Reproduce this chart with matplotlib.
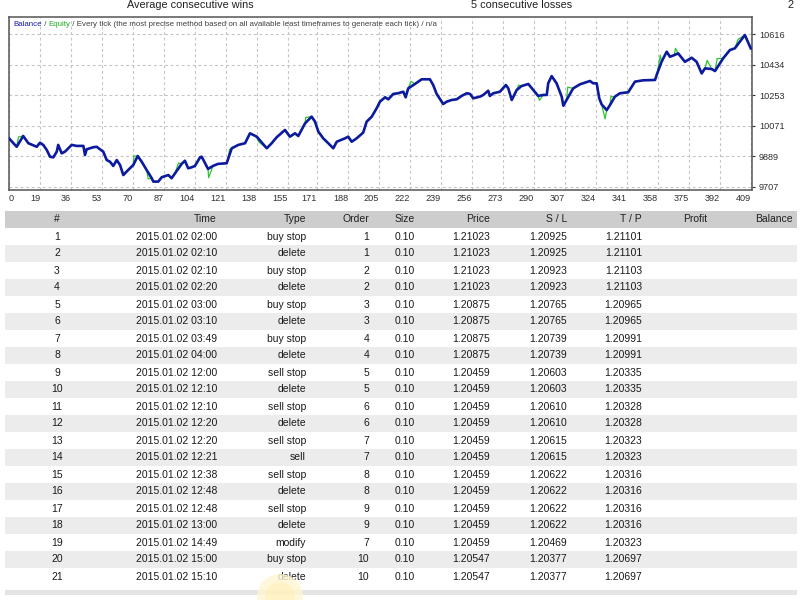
import matplotlib
matplotlib.use("Agg")
import matplotlib.pyplot as plt
from matplotlib.patches import Ellipse

plt.rcParams['font.family'] = ['Liberation Sans', 'DejaVu Sans']

# ---------------- chart data ----------------
bal_x = [2.0, 6.2, 9.8, 12.6, 17.2, 19.0, 20.8, 22.7, 24.5, 26.3, 28.2, 29.0, 30.9, 32.7,
         36.4, 39.1, 42.8, 43.7, 44.6, 48.2, 50.1, 51.9, 53.7, 55.6, 57.4, 59.2, 61.1, 62.9,
         64.7, 67.4, 70.2, 72.6, 74.8, 77.5, 80.3, 81.2, 83.9, 85.8, 89.4, 91.2, 93.1, 96.7,
         98.5, 100.3, 102.2, 104.0, 106.8, 107.7, 111.2, 113.9, 116.6, 121.4, 122.3, 124.2,
         127.8, 131.5, 134.2, 137.9, 143.4, 146.1, 148.8, 153.4, 156.1, 158.9, 160.7, 164.4,
         168.0, 169.9, 171.7, 174.4, 176.3, 179.9, 181.8, 186.3, 188.1, 190.0, 192.7, 196.3,
         198.2, 201.0, 203.7, 205.5, 208.3, 210.1, 212.8, 215.5, 218.3, 219.6, 221.0, 224.7,
         228.4, 232.9, 234.7, 236.6, 240.2, 242.1, 244.8, 247.6, 250.3, 253.1, 254.9, 256.7,
         260.4, 262.2, 264.9, 265.8, 267.7, 271.3, 274.6, 275.9, 277.8, 280.5, 283.2, 286.9,
         289.6, 292.3, 295.1, 297.0, 297.8, 299.7, 302.4, 305.2, 306.1, 307.9, 311.5, 315.2,
         320.7, 322.5, 324.4, 325.8, 327.1, 329.9, 331.7, 334.4, 337.2, 341.7, 345.4, 349.9,
         356.4, 357.6, 360.0, 362.8, 364.6, 367.0, 369.1, 372.8, 376.5, 379.2, 382.0, 383.8,
         387.5, 389.3, 393.8, 397.5, 400.2, 405.7, 408.9]
bal_y = [9996, 9946, 10010, 9967, 9946, 9970, 9957, 9927, 9887, 9883, 9917, 9957, 9907, 9917,
         9957, 9951, 9951, 9897, 9931, 9943, 9946, 9931, 9917, 9867, 9857, 9832, 9867, 9838,
         9778, 9808, 9838, 9891, 9857, 9808, 9759, 9739, 9739, 9765, 9778, 9759, 9788, 9844,
         9863, 9818, 9824, 9832, 9883, 9887, 9814, 9832, 9844, 9848, 9877, 9937,
         9957, 9967, 10026, 10006, 9937, 9967, 10002, 10046, 10006, 10026, 10010, 10085,
         10125, 10095, 10036, 9996, 9976, 9937, 9976, 9996, 10006, 9976, 9996, 10030,
         10095, 10125, 10175, 10214, 10240, 10228, 10260, 10264, 10273, 10240, 10293, 10319,
         10347, 10347, 10313, 10260, 10200, 10214, 10224, 10228, 10248, 10264, 10260, 10234,
         10244, 10254, 10279, 10248, 10264, 10273, 10313, 10293, 10224, 10283, 10307, 10319,
         10283, 10248, 10254, 10254, 10323, 10366, 10323, 10244, 10190, 10224, 10293, 10317,
         10337, 10323, 10323, 10234, 10198, 10164, 10194, 10244, 10264, 10270, 10333, 10341,
         10343, 10382, 10451, 10511, 10481, 10491, 10501, 10451, 10475, 10451, 10382, 10412,
         10408, 10396, 10472, 10521, 10531, 10610, 10531]

# points where the equity line leaves the balance line
eq_dev_x = [7.2, 70.5, 78.4, 95.0, 111.5, 123.0, 139.0, 164.8, 222.5, 281.5, 293.0,
            308.5, 329.0, 332.2, 359.3, 367.6, 385.0, 390.5, 402.0]
eq_dev_y = [10004, 9891, 9755, 9850, 9762, 9930, 9975, 10120, 10335, 10312, 10222,
            10300, 10112, 10244, 10490, 10531, 10460, 10470, 10585]

x_tick_values = [2, 19, 36, 53, 70, 87, 104, 121, 138, 155, 171, 188, 205, 222, 239, 256,
                 273, 290, 307, 324, 341, 358, 375, 392, 409]
x_tick_labels = ['0', '19', '36', '53', '70', '87', '104', '121', '138', '155', '171', '188',
                 '205', '222', '239', '256', '273', '290', '307', '324', '341', '358', '375',
                 '392', '409']
y_ticks = [9707, 9889, 10071, 10253, 10434, 10616]

# ---------------- table data ----------------
columns = ['#', 'Time', 'Type', 'Order', 'Size', 'Price', 'S / L', 'T / P', 'Profit', 'Balance']
row_no = list(range(1, 22))
times = ['2015.01.02 02:00', '2015.01.02 02:10', '2015.01.02 02:10', '2015.01.02 02:20',
         '2015.01.02 03:00', '2015.01.02 03:10', '2015.01.02 03:49', '2015.01.02 04:00',
         '2015.01.02 12:00', '2015.01.02 12:10', '2015.01.02 12:10', '2015.01.02 12:20',
         '2015.01.02 12:20', '2015.01.02 12:21', '2015.01.02 12:38', '2015.01.02 12:48',
         '2015.01.02 12:48', '2015.01.02 13:00', '2015.01.02 14:49', '2015.01.02 15:00',
         '2015.01.02 15:10']
types = ['buy stop', 'delete', 'buy stop', 'delete', 'buy stop', 'delete', 'buy stop', 'delete',
         'sell stop', 'delete', 'sell stop', 'delete', 'sell stop', 'sell', 'sell stop', 'delete',
         'sell stop', 'delete', 'modify', 'buy stop', 'delete']
orders = [1, 1, 2, 2, 3, 3, 4, 4, 5, 5, 6, 6, 7, 7, 8, 8, 9, 9, 7, 10, 10]
sizes = ['0.10'] * 21
prices = ['1.21023', '1.21023', '1.21023', '1.21023', '1.20875', '1.20875', '1.20875', '1.20875',
          '1.20459', '1.20459', '1.20459', '1.20459', '1.20459', '1.20459', '1.20459', '1.20459',
          '1.20459', '1.20459', '1.20459', '1.20547', '1.20547']
sls = ['1.20925', '1.20925', '1.20923', '1.20923', '1.20765', '1.20765', '1.20739', '1.20739',
       '1.20603', '1.20603', '1.20610', '1.20610', '1.20615', '1.20615', '1.20622', '1.20622',
       '1.20622', '1.20622', '1.20469', '1.20377', '1.20377']
tps = ['1.21101', '1.21101', '1.21103', '1.21103', '1.20965', '1.20965', '1.20991', '1.20991',
       '1.20335', '1.20335', '1.20328', '1.20328', '1.20323', '1.20323', '1.20316', '1.20316',
       '1.20316', '1.20316', '1.20323', '1.20697', '1.20697']

# ---------------- figure ----------------
fig = plt.figure(figsize=(8, 6), dpi=100)
fig.patch.set_facecolor('white')

# top summary line
fig.text(190 / 800, 1 - 5 / 600, 'Average consecutive wins', ha='center', va='center',
         fontsize=7.8, color='#202020')
fig.text(522 / 800, 1 - 5 / 600, '5 consecutive losses', ha='center', va='center',
         fontsize=7.8, color='#202020')
fig.text(791 / 800, 1 - 5 / 600, '2', ha='center', va='center', fontsize=7.8, color='#202020')

# chart axes
ax = fig.add_axes([9 / 800, 1 - 189.5 / 600, (752 - 9) / 800, (189.5 - 16.7) / 600])
ax.set_facecolor('white')
eq_pts = sorted(zip(bal_x + eq_dev_x, bal_y + eq_dev_y))
eq_x = [p[0] for p in eq_pts]
eq_y = [p[1] for p in eq_pts]
ax.plot(eq_x, eq_y, color='#2fc42f', lw=0.9, zorder=3)
ax.plot(bal_x, bal_y, color='#0c1a9e', lw=1.9, zorder=4, solid_joinstyle='round')
ax.set_xlim(2, 409.6)
ax.set_ylim(9692, 10719)
ax.set_xticks(x_tick_values)
ax.set_xticklabels(x_tick_labels)
for lab in ax.get_xticklabels():
    lab.set_ha('right')
ax.get_xticklabels()[0].set_ha('left')
ax.set_yticks(y_ticks)
ax.set_yticklabels([str(v) for v in y_ticks])
ax.yaxis.tick_right()
ax.tick_params(axis='x', length=0, pad=3, labelsize=6.6, colors='#303030')
ax.tick_params(axis='y', length=2.5, width=0.8, pad=2.5, labelsize=6.6, colors='#303030')
ax.grid(True, color='#c4c4c4', linestyle=(0, (2.5, 2.5)), linewidth=0.8)
ax.set_axisbelow(True)
for s in ax.spines.values():
    s.set_color('#555555')
    s.set_linewidth(1.1)

# legend line inside chart
lfs = 5.7
t1 = fig.text(13 / 800, 1 - 24 / 600, 'Balance', color='#1a1ab0', fontsize=lfs, va='center')
t2 = ax.annotate(' / ', xy=(1, 0), xycoords=t1, va='bottom', fontsize=lfs, color='#404040')
t3 = ax.annotate('Equity', xy=(1, 0), xycoords=t2, va='bottom', fontsize=lfs, color='#22aa22')
t4 = ax.annotate(' / Every tick (the most precise method based on all available least timeframes '
                 'to generate each tick) / n/a', xy=(1, 0), xycoords=t3, va='bottom',
                 fontsize=lfs, color='#404040')

# table axes
tab = fig.add_axes([0, 0, 1, 389 / 600])
tab.set_xlim(0, 800)
tab.set_ylim(-0.5 + 389 / 17, -0.5)
tab.axis('off')

tab.barh([0], [792], left=5, height=1, color='#cdcdcd', zorder=0)
stripe_rows = [r for r in row_no if r % 2 == 0]
tab.barh(stripe_rows, [792] * len(stripe_rows), left=5, height=1, color='#ececec', zorder=0)
tab.barh([21.95], [792], left=5, height=0.3, color='#e4e4e4', zorder=0)

col_x = [57, 217, 306, 369, 415, 490, 567, 642, 707, 793]
col_ha = ['center', 'right', 'right', 'right', 'right', 'right', 'right', 'right', 'right', 'right']
fs = 7.5
for name, x, ha in zip(columns, col_x, col_ha):
    tab.text(x, 0, name, ha=ha, va='center', fontsize=fs, color='#202020')

for i, r in enumerate(row_no):
    vals = [str(r), times[i], types[i], str(orders[i]), sizes[i], prices[i], sls[i], tps[i]]
    for v, x, ha in zip(vals, col_x, col_ha):
        tab.text(x, r, v, ha=ha, va='center', fontsize=fs, color='#1a1a1a')

# mouse-click highlight (soft glow)
tab.add_patch(Ellipse((280, 22.2), 46, 46 / 17, facecolor='#fff6d2', edgecolor='none',
                      alpha=0.8, zorder=5))
tab.add_patch(Ellipse((280, 22.2), 30, 30 / 17, facecolor='#fff0b8', edgecolor='none',
                      alpha=0.6, zorder=5))

fig.savefig('out.png', dpi=100)
